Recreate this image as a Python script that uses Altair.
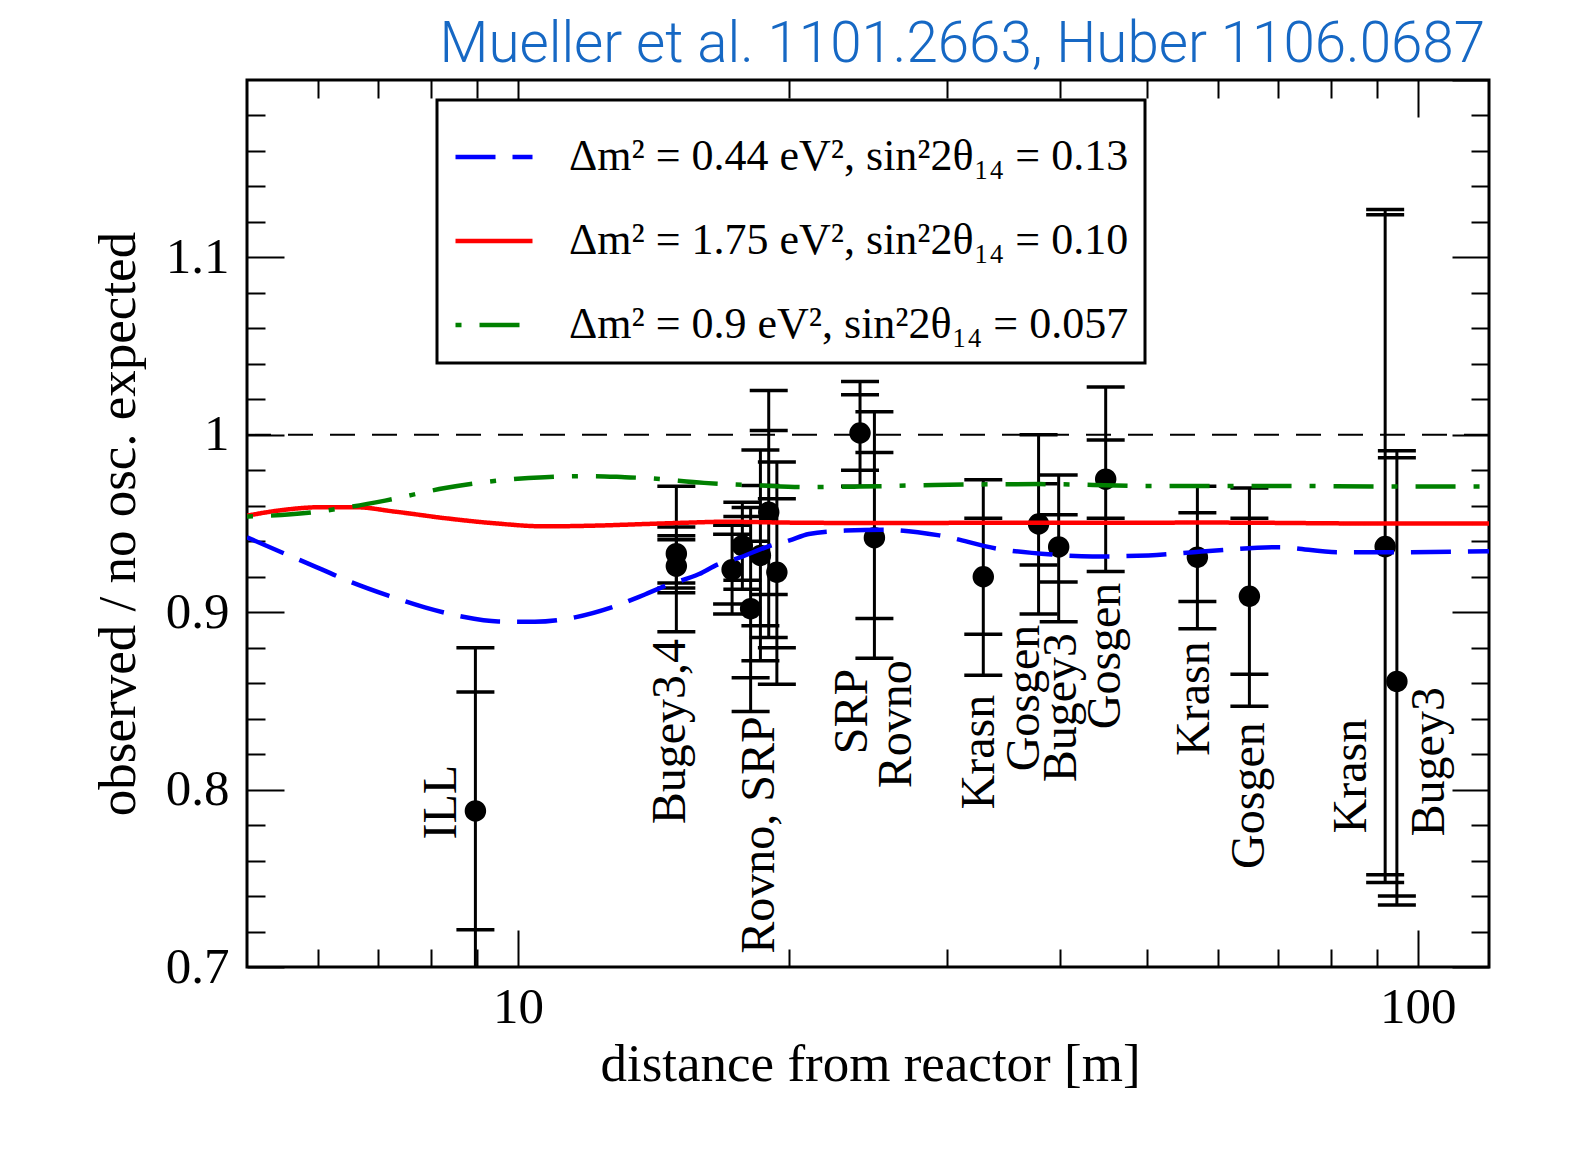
import altair as alt
import pandas as pd

SERIF = "Liberation Serif"

# ---------------- measured points (distance [m], observed / expected) ----------------
pt_x = [8.97, 15.0, 15.0, 17.3, 17.76, 18.14, 18.6, 19.0, 19.4, 24.0, 24.9,
        32.9, 37.9, 39.9, 45.0, 56.9, 65.0, 92.0, 94.8]
pt_y = [0.788, 0.933, 0.926, 0.924, 0.9375, 0.902, 0.932, 0.9564, 0.9225, 1.001, 0.942,
        0.920, 0.9497, 0.9368, 0.975, 0.931, 0.909, 0.937, 0.861]
tot_lo = [0.696, 0.889, 0.9136, 0.899, 0.913, 0.844, 0.8726, 0.8858, 0.8594, 0.971, 0.874,
          0.8645, 0.899, 0.8946, 0.923, 0.8907, 0.847, 0.7476, 0.735]
tot_hi = [0.880, 0.971, 0.9431, 0.949, 0.962, 0.959, 0.9915, 1.025, 0.9846, 1.030, 1.013,
          0.9746, 1.000, 0.9774, 1.027, 0.971, 0.970, 1.127, 0.991]
unc_lo = [0.721, 0.911, 0.9164, 0.9046, 0.918, 0.863, 0.8923, 0.910, 0.880, 0.980, 0.8965,
          0.8876, 0.9266, 0.917, 0.953, 0.906, 0.865, 0.752, 0.740]
unc_hi = [0.855, 0.948, 0.9409, 0.944, 0.954, 0.940, 0.9714, 1.0024, 0.9639, 1.0226, 0.990,
          0.953, 0.9724, 0.955, 0.997, 0.956, 0.953, 1.124, 0.987]

# ---------------- experiment labels ----------------
lab_text = ["ILL", "Bugey3,4", "Rovno, SRP", "SRP", "Rovno", "Krasn", "Gosgen", "Bugey3",
            "Gosgen", "Krasn", "Gosgen", "Krasn", "Bugey3"]
lab_x = [8.53, 15.33, 19.25, 24.42, 27.33, 33.8, 37.93, 41.66, 46.66, 58.6, 67.4, 87.5, 106.9]
lab_y = [0.7719, 0.7804, 0.7075, 0.8199, 0.8007, 0.7888, 0.8103, 0.8041, 0.834, 0.819,
         0.7553, 0.7753, 0.7736]

# ---------------- oscillation curves ----------------
series = ["Δm² = 0.44 eV², sin²2θ₁₄ = 0.13",
          "Δm² = 1.75 eV², sin²2θ₁₄ = 0.10",
          "Δm² = 0.9 eV², sin²2θ₁₄ = 0.057"]
colors = ["#0000ff", "#ff0000", "#008000"]
dashes = [[40, 17], [1, 0], [6, 18, 40, 18]]

blue_x = [5.0, 5.46, 5.98, 6.54, 7.18, 7.88, 8.66, 9.51, 10.44, 11.57, 12.71, 13.84, 14.6,
          15.9, 16.73, 17.46, 19.09, 20.0, 21.05, 23.1, 25.5, 29.4, 34.2, 39.2, 43.5, 50.2,
          58.1, 70.0, 81.7, 95.0, 120.0]
blue_y = [0.9422, 0.9338, 0.9253, 0.9168, 0.9093, 0.9027, 0.8976, 0.8948, 0.8946, 0.8971,
          0.9027, 0.9100, 0.9149, 0.9215, 0.9272, 0.9300, 0.9375, 0.9403, 0.9441, 0.9460,
          0.9465, 0.9433, 0.9357, 0.9325, 0.9314, 0.9320, 0.9344, 0.9366, 0.9338, 0.9338,
          0.9344]
red_x = [5.0, 5.42, 6.05, 6.59, 7.30, 8.30, 9.43, 10.71, 12.18, 13.84, 15.5, 17.0, 20.0,
         24.0, 35.0, 60.0, 90.0, 120.0]
red_y = [0.9544, 0.9573, 0.9592, 0.9592, 0.9567, 0.9530, 0.9501, 0.9484, 0.9488, 0.9497,
         0.9505, 0.9510, 0.9505, 0.9503, 0.9504, 0.9505, 0.9500, 0.9500]
green_x = [5.0, 5.85, 6.48, 7.12, 8.30, 9.67, 10.71, 12.08, 13.15, 14.0, 16.1, 18.5, 21.05,
           24.0, 29.0, 38.0, 50.0, 70.0, 90.0, 120.0]
green_y = [0.9539, 0.9560, 0.9592, 0.9629, 0.9700, 0.9746, 0.9761, 0.9767, 0.9761, 0.9755,
           0.9729, 0.9715, 0.9705, 0.9708, 0.9717, 0.9722, 0.9712, 0.9712, 0.9709, 0.9709]

# ---------------- tables ----------------
pts = pd.DataFrame({"x": pt_x, "y": pt_y, "lo": tot_lo, "hi": tot_hi})
cap_rows = []
for xv, a, b, c, d in zip(pt_x, tot_lo, tot_hi, unc_lo, unc_hi):
    for v in (a, b, c, d):
        cap_rows.append({"x": xv, "yc": v})
caps_df = pd.DataFrame(cap_rows)
labs = pd.DataFrame({"x": lab_x, "y": lab_y, "t": lab_text})
curves = pd.concat([
    pd.DataFrame({"x": blue_x, "y": blue_y, "series": series[0]}),
    pd.DataFrame({"x": red_x, "y": red_y, "series": series[1]}),
    pd.DataFrame({"x": green_x, "y": green_y, "series": series[2]}),
])
ref = pd.DataFrame({"y": [1.0]})

W, H = 1242, 887
xs = alt.Scale(type="log", domain=[5, 120], nice=False)
ys = alt.Scale(domain=[0.7, 1.2], nice=False, zero=False)

MAJ, MIN = 37, 18
x_major = [10, 100]
x_minor = [6, 7, 8, 9, 20, 30, 40, 50, 60, 70, 80, 90]
y_major = [0.7, 0.8, 0.9, 1.0, 1.1]
y_minor = [0.72, 0.74, 0.76, 0.78, 0.82, 0.84, 0.86, 0.88, 0.92, 0.94, 0.96, 0.98,
           1.02, 1.04, 1.06, 1.08, 1.12, 1.14, 1.16, 1.18]

common = dict(domain=False, grid=False, tickColor="black", tickWidth=2)

ax_bottom = alt.Axis(orient="bottom", offset=-MAJ, tickSize=MAJ, values=x_major, format="~g",
                     labelFont=SERIF, labelFontSize=51, labelColor="black", labelPadding=15,
                     titleFont=SERIF, titleFontSize=53, titleFontWeight="normal",
                     titleColor="black", titleBaseline="alphabetic", titleX=W / 2 + 2,
                     titleY=150, **common)
ax_bottom_min = alt.Axis(orient="bottom", offset=-MIN, tickSize=MIN, values=x_minor,
                         labels=False, **common)
ax_top = alt.Axis(orient="top", offset=-MAJ, tickSize=MAJ, values=x_major, labels=False, **common)
ax_top_min = alt.Axis(orient="top", offset=-MIN, tickSize=MIN, values=x_minor, labels=False,
                      **common)
ay_left = alt.Axis(orient="left", offset=-MAJ, tickSize=MAJ, values=y_major, format="~g",
                   labelFont=SERIF, labelFontSize=51, labelColor="black", labelPadding=18,
                   titleFont=SERIF, titleFontSize=53, titleFontWeight="normal",
                   titleColor="black", titleBaseline="alphabetic", titleAngle=270,
                   titleX=134 - 284, titleY=H / 2, **common)
ay_left_min = alt.Axis(orient="left", offset=-MIN, tickSize=MIN, values=y_minor, labels=False,
                       **common)
ay_right = alt.Axis(orient="right", offset=-MAJ, tickSize=MAJ, values=y_major + [1.2],
                    labels=False, **common)
ay_right_min = alt.Axis(orient="right", offset=-MIN, tickSize=MIN, values=y_minor,
                        labels=False, **common)

# error bars (vertical)
bars = alt.Chart(pts).mark_rule(color="black", strokeWidth=3, clip=True).encode(
    x=alt.X("x:Q", scale=xs, axis=ax_bottom, title="distance from reactor [m]"),
    y=alt.Y("lo:Q", scale=ys, axis=ay_left, title="observed / no osc. expected"),
    y2="hi:Q",
)
# caps
caps = alt.Chart(caps_df).mark_rule(color="black", strokeWidth=3.5, xOffset=-19, x2Offset=19,
                                    clip=True).encode(
    x=alt.X("x:Q", scale=xs, axis=ax_bottom_min, title=None),
    x2="x:Q",
    y=alt.Y("yc:Q", scale=ys, axis=ay_left_min, title=None),
)
points = alt.Chart(pts).mark_circle(color="black", opacity=1, size=460).encode(
    x=alt.X("x:Q", scale=xs, axis=ax_top, title=None),
    y=alt.Y("y:Q", scale=ys, axis=ay_right, title=None),
)
labels = alt.Chart(labs).mark_text(font=SERIF, fontSize=48, angle=270, align="left",
                                   baseline="alphabetic", color="black").encode(
    x=alt.X("x:Q", scale=xs, axis=ax_top_min, title=None),
    y=alt.Y("y:Q", scale=ys, axis=ay_right_min, title=None),
    text="t:N",
)
refline = alt.Chart(ref).mark_rule(color="black", strokeWidth=2, strokeDash=[25, 17]).encode(
    y=alt.Y("y:Q", scale=ys, axis=None),
)
leg = alt.Legend(title=None, orient="none", legendX=190, legendY=20, padding=16,
                 strokeColor="black", fillColor="white", symbolType="stroke",
                 symbolSize=5929, symbolStrokeWidth=4.5, labelFont=SERIF, labelFontSize=44,
                 labelColor="black", labelOffset=34, rowPadding=21, labelLimit=2000)
lines = alt.Chart(curves).mark_line(strokeWidth=4.5, interpolate="monotone", clip=True).encode(
    x=alt.X("x:Q", scale=xs, axis=None),
    y=alt.Y("y:Q", scale=ys, axis=None),
    color=alt.Color("series:N", scale=alt.Scale(domain=series, range=colors), legend=leg),
    strokeDash=alt.StrokeDash("series:N", scale=alt.Scale(domain=series, range=dashes),
                              legend=leg),
    order=alt.Order("x:Q"),
)

chart = alt.layer(bars, caps, points, refline, lines, labels).resolve_axis(
    x="independent", y="independent"
).properties(
    width=W, height=H,
    padding={"left": 247, "top": 80, "right": 86, "bottom": 197},
    autosize=alt.AutoSizeParams(type="none"),
    background="white",
    title=alt.TitleParams(text="Mueller et al. 1101.2663, Huber 1106.0687", anchor="end",
                          frame="group", font="Roboto", fontSize=56.5, fontWeight=300,
                          color="#1668c4", offset=15, baseline="alphabetic", dx=-4, dy=54),
).configure_view(stroke="black", strokeWidth=3).configure_legend(strokeWidth=3)

chart.save("out.html", embed_options={"renderer": "svg", "actions": False})
